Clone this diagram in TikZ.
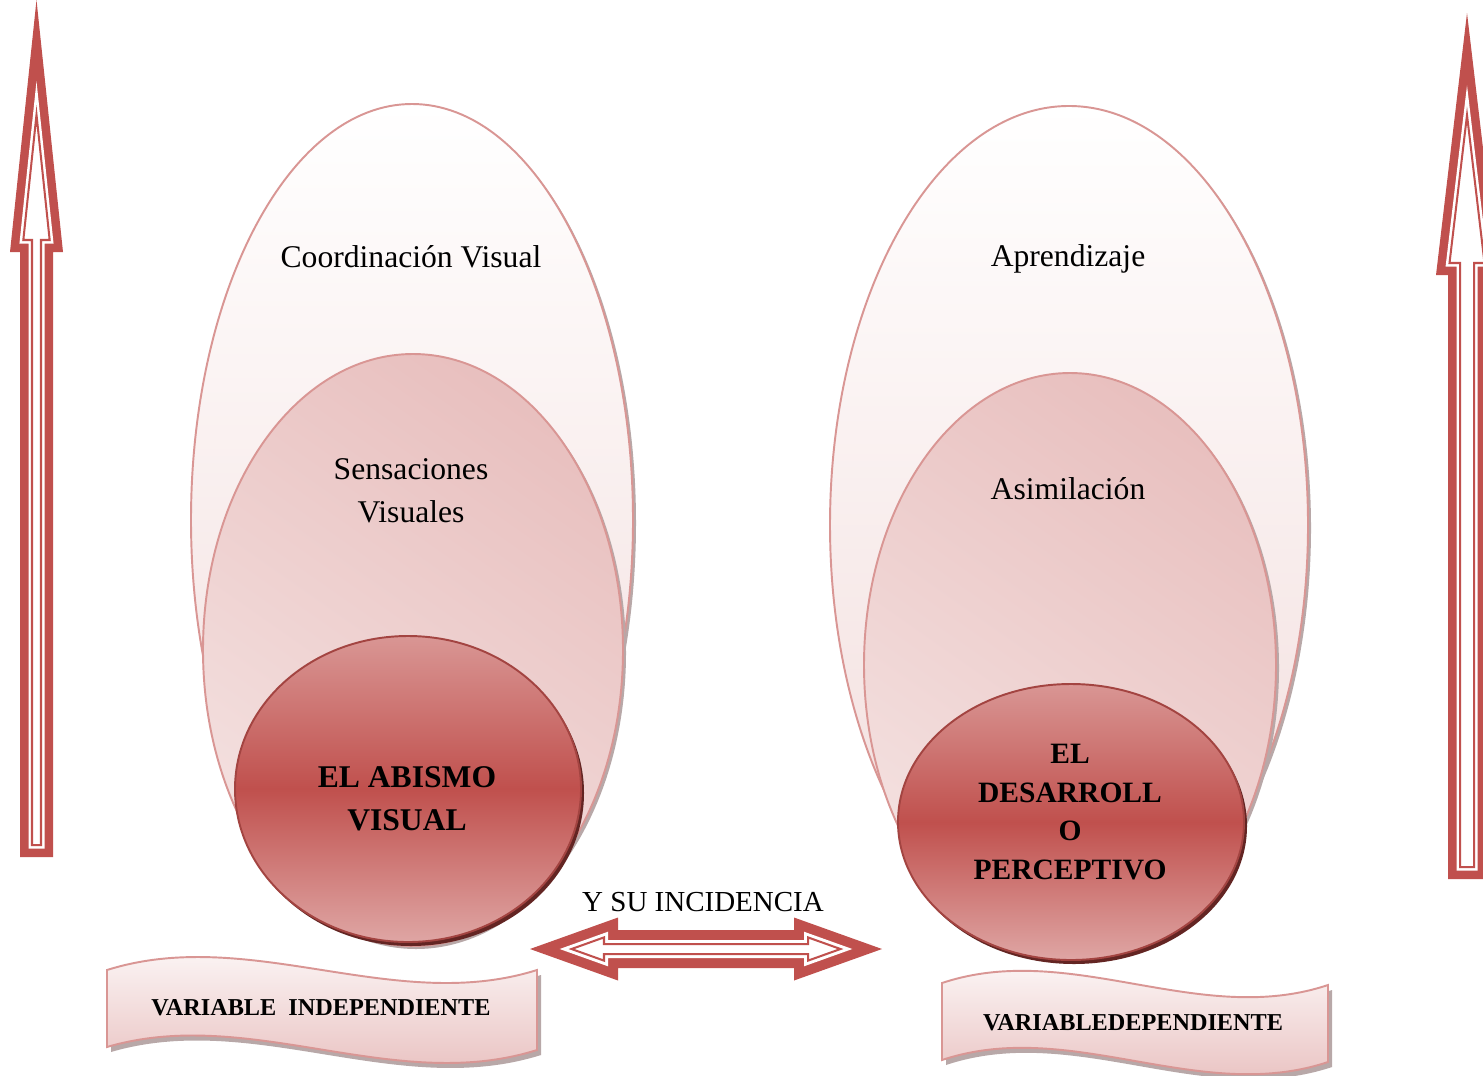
\documentclass[tikz,border=0pt]{standalone}
\usepackage{fontspec}
\setmainfont{Liberation Serif}
\usetikzlibrary{shapes.geometric}
\definecolor{ared}{HTML}{C0504D}
\definecolor{pinkline}{HTML}{D99694}
\definecolor{pinklight}{HTML}{F2DCDB}
\definecolor{pinkmid}{HTML}{E6B9B8}
\definecolor{darkshadow}{HTML}{632523}
\definecolor{greyshadow}{HTML}{B8A8A8}

% vertical arrow pointing up, polygon offset inward by d (pixel units)
\newcommand\UpArrowPath[8]{%
  \pgfmathsetmacro\uaH{#4-#3}%
  \pgfmathsetmacro\uaL{\uaH*sqrt(1+((#6)/\uaH)^2)}%
  \pgfmathsetmacro\uaTy{#3+(#8)*\uaL/(#6)}%
  \pgfmathsetmacro\uaHx{#6-(#8)*(\uaL+#6)/\uaH}%
  \pgfmathsetmacro\uaSx{#7-(#8)}%
  \pgfmathsetmacro\uaBy{#4-(#8)}%
  \pgfmathsetmacro\uaEy{#5-(#8)}%
  \path[#1] (#2,\uaTy) -- ({#2+\uaHx},\uaBy) -- ({#2+\uaSx},\uaBy) -- ({#2+\uaSx},\uaEy)
     -- ({#2-\uaSx},\uaEy) -- ({#2-\uaSx},\uaBy) -- ({#2-\uaHx},\uaBy) -- cycle;%
}
% horizontal double arrow, polygon offset inward by d
\newcommand\DblArrowPath[8]{%
  \pgfmathsetmacro\daL{#5*sqrt(1+((#6)/(#5))^2)}%
  \pgfmathsetmacro\daT{(#8)*\daL/(#6)}%
  \pgfmathsetmacro\daHy{#6-(#8)*(\daL+#6)/(#5)}%
  \pgfmathsetmacro\daSy{#7-(#8)}%
  \pgfmathsetmacro\daLb{#2+#5-(#8)}%
  \pgfmathsetmacro\daRb{#3-#5+(#8)}%
  \path[#1] ({#2+\daT},#4) -- (\daLb,{#4-\daHy}) -- (\daLb,{#4-\daSy}) -- (\daRb,{#4-\daSy})
     -- (\daRb,{#4-\daHy}) -- ({#3-\daT},#4) -- (\daRb,{#4+\daHy}) -- (\daRb,{#4+\daSy})
     -- (\daLb,{#4+\daSy}) -- (\daLb,{#4+\daHy}) -- cycle;%
}

\begin{document}
\begin{tikzpicture}[x=0.02cm,y=-0.02cm,
  outerell/.style={ellipse, inner sep=0pt, draw=pinkline, line width=1.1pt,
     top color=white, bottom color=pinklight},
  midell/.style={ellipse, inner sep=0pt, draw=pinkline, line width=1.1pt,
     top color=pinkmid!80!pinklight, bottom color=pinklight!85!white, shading angle=-35},
  coreell/.style={ellipse, inner sep=0pt, draw=ared!85!black, line width=1.1pt,
     top color=pinkline, bottom color=pinkline!85!white, middle color=ared},
  greysh/.style={ellipse, inner sep=0pt, fill=greyshadow},
  darksh/.style={ellipse, inner sep=0pt, fill=darkshadow},
  txt/.style={font=\fontsize{18}{24.4}\selectfont, align=center, inner sep=0pt},
  btxt/.style={font=\fontsize{18}{24.4}\selectfont\bfseries, align=center, inner sep=0pt},
  btxtb/.style={font=\fontsize{16.8}{22.1}\selectfont\bfseries, align=center, inner sep=0pt},
  itxt/.style={font=\fontsize{16.5}{20}\selectfont, inner sep=0pt},
  vtxt/.style={font=\fontsize{13.8}{16}\selectfont\bfseries, inner sep=0pt},
  banner/.style={draw=pinkline, line width=1.1pt, top color=white, bottom color=pinkmid},
  bannersh/.style={fill=greyshadow},
  arrfill/.style={fill=ared},
  arrgap/.style={fill=white},
  arrthin/.style={draw=ared, line width=1.15pt}
]
\useasboundingbox (0,0) rectangle (1483,1075);
\fill[white] (0,0) rectangle (1483,1075);

% ---------- vertical arrows ----------
\UpArrowPath{arrfill}{36.5}{0}{252}{857}{26.5}{16.5}{0}
\UpArrowPath{arrgap}{36.5}{0}{252}{857}{26.5}{16.5}{8.5}
\UpArrowPath{arrthin}{36.5}{0}{252}{857}{26.5}{16.5}{12}

\UpArrowPath{arrfill}{1467}{13}{275}{879}{31}{19}{0}
\UpArrowPath{arrgap}{1467}{13}{275}{879}{31}{19}{8.5}
\UpArrowPath{arrthin}{1467}{13}{275}{879}{31}{19}{12}

% ---------- left ellipses ----------
\node[greysh, minimum width=442*0.02cm, minimum height=832*0.02cm] (los) at (415,523) {};
\node[outerell, minimum width=442*0.02cm, minimum height=832*0.02cm] (lo) at (412,520) {};
\node[greysh, minimum width=420*0.02cm, minimum height=592*0.02cm] (lms) at (416,653) {};
\node[midell, minimum width=420*0.02cm, minimum height=592*0.02cm] (lm) at (413,650) {};
\node[darksh, minimum width=346*0.02cm, minimum height=306*0.02cm] (lcs) at (411,793) {};
\node[coreell, minimum width=346*0.02cm, minimum height=306*0.02cm] (lc) at (408,789) {};

% ---------- right ellipses ----------
\node[greysh, minimum width=478*0.02cm, minimum height=838*0.02cm] (ros) at (1072,528) {};
\node[outerell, minimum width=478*0.02cm, minimum height=838*0.02cm] (ro) at (1069,525) {};
\node[greysh, minimum width=412*0.02cm, minimum height=584*0.02cm] (rms) at (1073,668) {};
\node[midell, minimum width=412*0.02cm, minimum height=584*0.02cm] (rm) at (1070,665) {};
\node[darksh, minimum width=346*0.02cm, minimum height=276*0.02cm] (rcs) at (1074,826) {};
\node[coreell, minimum width=346*0.02cm, minimum height=276*0.02cm] (rc) at (1071,822) {};

% ---------- texts in ellipses ----------
\node[txt] (t1) at (411,257) {Coordinación Visual};
\node[txt] (t2) at (411,491) {Sensaciones\\Visuales};
\node[btxt] (t3) at (407,799) {EL ABISMO\\VISUAL};
\node[txt] (t4) at (1068,259) {Aprendizaje};
\node[txt] (t5) at (1068,489) {Asimilación};
\node[btxtb] (t6) at (1070,812) {EL\\DESARROLL\\O\\PERCEPTIVO};

% ---------- double arrow ----------
\DblArrowPath{arrfill}{530}{882}{949}{88}{31.5}{19}{0}
\DblArrowPath{arrgap}{530}{882}{949}{88}{31.5}{19}{10}
\DblArrowPath{arrthin}{530}{882}{949}{88}{31.5}{19}{14}
\node[itxt] (t7) at (703,902) {Y SU INCIDENCIA};

% ---------- banners ----------
\begin{scope}[shift={(4,5)}]
\path[bannersh] (107,970) .. controls (250,925) and (394,1015) .. (537,970) -- (537,1050)
   .. controls (394,1095) and (250,1005) .. (107,1047) -- cycle;
\path[bannersh] (942,983) .. controls (1071,940) and (1199,1028) .. (1328,985) -- (1328,1062)
   .. controls (1199,1105) and (1071,1017) .. (942,1060) -- cycle;
\end{scope}
\path[banner] (107,970) .. controls (250,925) and (394,1015) .. (537,970) -- (537,1050)
   .. controls (394,1095) and (250,1005) .. (107,1047) -- cycle;
\path[banner] (942,983) .. controls (1071,940) and (1199,1028) .. (1328,985) -- (1328,1062)
   .. controls (1199,1105) and (1071,1017) .. (942,1060) -- cycle;
\node[vtxt] (t8) at (321,1008) {VARIABLE\ \ INDEPENDIENTE};
\node[vtxt] (t9) at (1133,1023) {VARIABLEDEPENDIENTE};
\end{tikzpicture}
\end{document}
